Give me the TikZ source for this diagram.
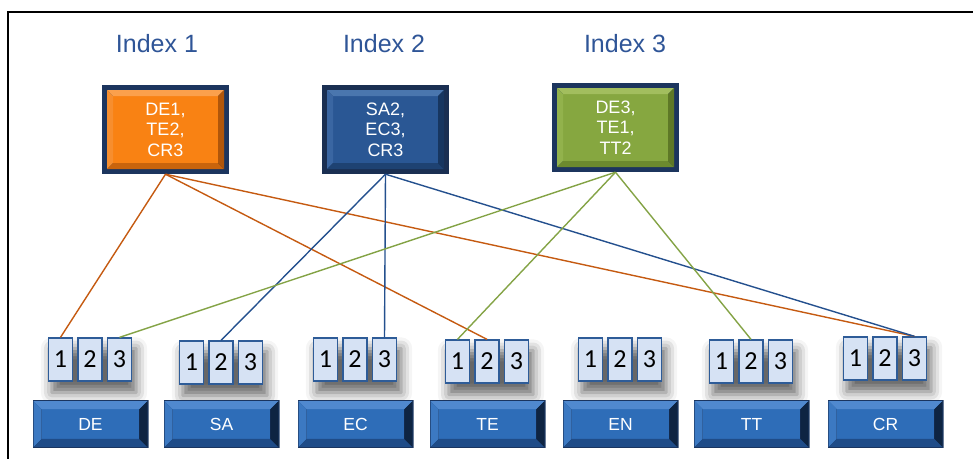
\documentclass[tikz,border=0pt]{standalone}
\usepackage{fontspec}
\setmainfont{Liberation Sans}
\newfontfamily\digitfont{Carlito}
\usetikzlibrary{shadows.blur}

\definecolor{titleblue}{HTML}{2F5597}
\definecolor{navyframe}{HTML}{1C355E}
\definecolor{lineorange}{HTML}{C55A11}
\definecolor{lineblue}{HTML}{24508E}
\definecolor{linegreen}{HTML}{84A346}
\definecolor{cellfill}{HTML}{D6E2F4}
\definecolor{celldraw}{HTML}{2E5C98}
% orange box
\definecolor{orFace}{HTML}{F98213}
\definecolor{orTop}{HTML}{FBA04C}
\definecolor{orLeft}{HTML}{F78E2E}
\definecolor{orBottom}{HTML}{C9640C}
\definecolor{orRight}{HTML}{B0560A}
% dark blue box
\definecolor{dbFrame}{HTML}{1A2F52}
\definecolor{dbFace}{HTML}{2A5794}
\definecolor{dbTop}{HTML}{4A76AE}
\definecolor{dbLeft}{HTML}{3A66A2}
\definecolor{dbBottom}{HTML}{1E4272}
\definecolor{dbRight}{HTML}{173660}
% green box
\definecolor{grFace}{HTML}{86A740}
\definecolor{grTop}{HTML}{A2BE5E}
\definecolor{grLeft}{HTML}{92B24C}
\definecolor{grBottom}{HTML}{6C8A2E}
\definecolor{grRight}{HTML}{5E7826}
% key boxes
\definecolor{kyFrame}{HTML}{1A3560}
\definecolor{kyFace}{HTML}{2E6DB8}
\definecolor{kyTop}{HTML}{5089CF}
\definecolor{kyLeft}{HTML}{3C79C2}
\definecolor{kyBottom}{HTML}{1F4C88}
\definecolor{kyRight}{HTML}{0E2442}

% bevelled face: #1 frame width, #2 bevel width, #3 frame, #4 face,
% #5 top bevel, #6 left bevel, #7 bottom bevel, #8 right bevel
\newcommand\bevelpaint[8]{%
  \fill[#3] (path picture bounding box.south west) rectangle (path picture bounding box.north east);
  \coordinate (bvA) at ([xshift=#1,yshift=-#1]path picture bounding box.north west);
  \coordinate (bvB) at ([xshift=-#1,yshift=-#1]path picture bounding box.north east);
  \coordinate (bvC) at ([xshift=-#1,yshift=#1]path picture bounding box.south east);
  \coordinate (bvD) at ([xshift=#1,yshift=#1]path picture bounding box.south west);
  \coordinate (bva) at ([xshift=#2,yshift=-#2]bvA);
  \coordinate (bvb) at ([xshift=-#2,yshift=-#2]bvB);
  \coordinate (bvc) at ([xshift=-#2,yshift=#2]bvC);
  \coordinate (bvd) at ([xshift=#2,yshift=#2]bvD);
  \fill[#4] (bva) rectangle (bvc);
  \fill[#5] (bvA) -- (bvB) -- (bvb) -- (bva) -- cycle;
  \fill[#6] (bvA) -- (bva) -- (bvd) -- (bvD) -- cycle;
  \fill[#7] (bvD) -- (bvd) -- (bvc) -- (bvC) -- cycle;
  \fill[#8] (bvB) -- (bvC) -- (bvc) -- (bvb) -- cycle;
}

\pgfdeclarelayer{bg}
\pgfsetlayers{bg,main}

\tikzset{
  indexlabel/.style={text=titleblue, font=\fontsize{25}{29}\selectfont, inner sep=0pt},
  indexbox/.style={minimum width=127pt, minimum height=89pt, inner sep=0pt,
    text=white, align=center, font=\fontsize{18}{20.5}\selectfont},
  orangebox/.style={indexbox, path picture={\bevelpaint{5pt}{6pt}{navyframe}{orFace}{orTop}{orLeft}{orBottom}{orRight}}},
  bluebox/.style={indexbox, path picture={\bevelpaint{5pt}{6pt}{dbFrame}{dbFace}{dbTop}{dbLeft}{dbBottom}{dbRight}}},
  greenbox/.style={indexbox, path picture={\bevelpaint{5pt}{6pt}{navyframe}{grFace}{grTop}{grLeft}{grBottom}{grRight}}},
  keybox/.style={minimum width=116pt, minimum height=48pt, inner sep=0pt,
    text=white, font=\fontsize{17.5}{20}\selectfont,
    path picture={\bevelpaint{1.2pt}{8pt}{kyFrame}{kyFace}{kyTop}{kyLeft}{kyBottom}{kyRight}}},
  numbox/.style={draw=celldraw, fill=cellfill, line width=1.3pt,
    minimum width=24pt, minimum height=43pt, inner sep=0pt,
    font=\digitfont\fontsize{26}{28}\selectfont},
  groupshadow/.style={blur shadow={shadow xshift=4pt, shadow yshift=-11pt,
    shadow blur radius=11pt, shadow opacity=60}},
  link/.style={line width=1.4pt},
}

\begin{document}
\begin{tikzpicture}[x=1pt, y=-1pt]
\useasboundingbox (0,0) rectangle (973,459);

% frame lines along the top and left
\draw[line width=1.8pt] (973,12) -- (8,12) -- (8,459);

% index titles
\node[indexlabel] (lab1) at (157,43.5) {Index 1};
\node[indexlabel] (lab2) at (384,43.5) {Index 2};
\node[indexlabel] (lab3) at (625,43.5) {Index 3};

% index boxes
\node[orangebox] (idx1) at (165.5,129.5) {DE1,\\TE2,\\CR3};
\node[bluebox]   (idx2) at (385.5,129.5) {SA2,\\EC3,\\CR3};
\node[greenbox]  (idx3) at (615.5,127.5) {DE3,\\TE1,\\TT2};

% partition cells and key boxes
\foreach \nm/\lab/\cx/\ty in {de/DE/90/338, sa/SA/221/341, ec/EC/355/338,
    te/TE/487/340, en/EN/620/338, tt/TT/751/340, cr/CR/885/337} {
  \node[numbox] (\nm1) at (\cx-29.5,\ty+21.5) {1};
  \node[numbox] (\nm2) at (\cx,\ty+21.5) {2};
  \node[numbox] (\nm3) at (\cx+29.5,\ty+21.5) {3};
  \node[keybox] (\nm key) at (\cx+0.5,424) {\lab};
  \begin{pgfonlayer}{bg}
    \path[groupshadow] (\nm1.north west) rectangle (\nm3.south east);
  \end{pgfonlayer}
}

% connectors
\draw[link, lineorange] (idx1.south) -- (de1.north);
\draw[link, lineorange] (idx1.south) -- (te2.north);
\draw[link, lineorange] (idx1.south) -- (cr3.north);
\draw[link, lineblue] (idx2.south) -- (sa2.north);
\draw[link, lineblue] (idx2.south) -- (ec3.north);
\draw[link, lineblue] (idx2.south) -- (cr3.north);
\draw[link, linegreen] (idx3.south) -- (de3.north);
\draw[link, linegreen] (idx3.south) -- (te1.north);
\draw[link, linegreen] (idx3.south) -- (tt2.north);
\end{tikzpicture}
\end{document}
